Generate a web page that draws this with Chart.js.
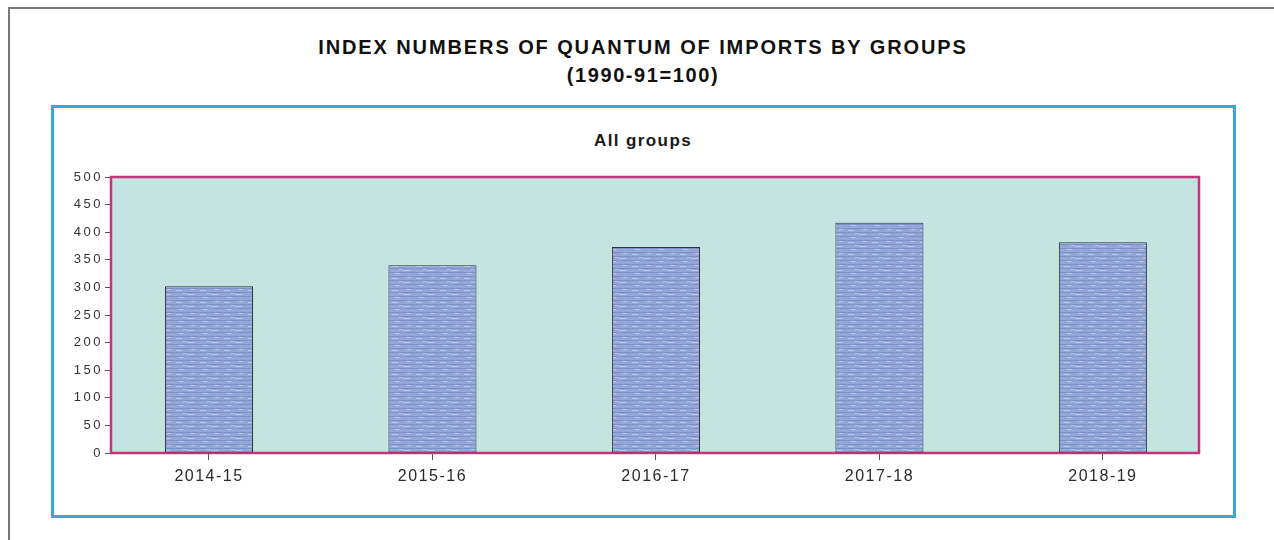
<!DOCTYPE html>
<html>
<head>
<meta charset="utf-8">
<title>Index numbers of quantum of imports by groups</title>
<script src="https://cdn.jsdelivr.net/npm/chart.js@4.4.1/dist/chart.umd.min.js"></script>
<style>
    html, body { margin: 0; padding: 0; background: #fff; }
    body { width: 1274px; height: 540px; position: relative; overflow: hidden; font-family: 'Liberation Sans', Arial, sans-serif; }
    .page-top { position: absolute; left: 9px; top: 7px; right: 0; height: 2px; background: #7a7a7a; }
    .page-left { position: absolute; left: 8px; top: 7px; bottom: 0; width: 2px; background: #7a7a7a; }
    .title { position: absolute; left: 0; width: 1286px; text-align: center; font-weight: bold; color: #111; line-height: 24px; }
    #t1 { top: 35px; font-size: 20px; letter-spacing: 1.9px; }
    #t2 { top: 63px; font-size: 20px; letter-spacing: 1.6px; }
    #t3 { top: 130px; font-size: 17px; letter-spacing: 1.4px; color: #1a1a1a; line-height: 22px; }
    .box { position: absolute; left: 51px; top: 105px; width: 1185px; height: 413px; box-sizing: border-box; border: 3px solid #3aa6d6; }
    .chart-wrap { position: absolute; left: 54px; top: 108px; width: 1179px; height: 407px; }
</style>
</head>
<body>
<div class="page-top"></div>
<div class="page-left"></div>
<div class="box"></div>
<div class="title" id="t1">INDEX NUMBERS OF QUANTUM OF IMPORTS BY GROUPS</div>
<div class="title" id="t2">(1990-91=100)</div>
<div class="title" id="t3">All groups</div>
<div class="chart-wrap"><canvas id="importsChart"></canvas></div>

<script>
// Data
const years = ['2014-15', '2015-16', '2016-17', '2017-18', '2018-19'];
const allGroups = [302, 340, 373, 417, 382];
const yTicks = [0, 50, 100, 150, 200, 250, 300, 350, 400, 450, 500];

// Colours
const colors = {
    plotBg: '#c4e4e2',
    plotBorder: '#c8337c',
    barEdge: '#333333',
    tick: '#555555',
    text: '#2a2a2a'
};

// Mottled blue fill for the bars, like the scanned texture
function makeBarPattern() {
    const c = document.createElement('canvas');
    c.width = 24;
    c.height = 12;
    const g = c.getContext('2d');
    g.fillStyle = '#96a6d6';
    g.fillRect(0, 0, 24, 12);
    g.fillStyle = '#7d91cb';
    for (let y = 0; y < 12; y += 4) g.fillRect(0, y, 24, 1);
    g.fillStyle = '#bcc8e8';
    g.fillRect(2, 2, 6, 1);
    g.fillRect(13, 6, 7, 1);
    g.fillRect(5, 9, 5, 1);
    g.fillRect(17, 1, 4, 1);
    g.fillRect(9, 5, 3, 1);
    return g.createPattern(c, 'repeat');
}

// Plot background and pink frame, drawn under the bars
const plotFrame = {
    id: 'plotFrame',
    beforeDatasetsDraw(chart) {
        const { ctx, chartArea: a } = chart;
        ctx.save();
        ctx.fillStyle = colors.plotBg;
        ctx.fillRect(a.left, a.top, a.right - a.left, a.bottom - a.top);
        ctx.strokeStyle = colors.plotBorder;
        ctx.lineWidth = 2.5;
        ctx.strokeRect(a.left, a.top, a.right - a.left, a.bottom - a.top);
        ctx.restore();
    }
};

// the scan is stretched sideways: add letter spacing to axis labels
function spaceLabels(scale, spacing) {
    if (scale._spaced) return;
    const orig = scale.drawLabels.bind(scale);
    scale.drawLabels = function (area) {
        this.ctx.save();
        this.ctx.letterSpacing = spacing;
        orig(area);
        this.ctx.restore();
    };
    scale._spaced = true;
}

const ctx = document.getElementById('importsChart');
new Chart(ctx, {
    type: 'bar',
    data: {
        datasets: [{
            label: 'All groups',
            data: allGroups.map((v, i) => ({ x: i, y: v })),
            backgroundColor: makeBarPattern(),
            borderColor: colors.barEdge,
            borderWidth: 1,
            borderSkipped: false,
            categoryPercentage: 1,
            barPercentage: 0.394
        }]
    },
    options: {
        responsive: true,
        maintainAspectRatio: false,
        animation: false,
        layout: { padding: { top: 69, right: 34, left: 0, bottom: 0 } },
        plugins: {
            legend: { display: false },
            tooltip: { enabled: false }
        },
        scales: {
            x: {
                type: 'linear',
                min: -0.4385,
                max: 4.43,
                offset: false,
                afterBuildTicks(scale) {
                    scale.ticks = years.map((y, i) => ({ value: i }));
                },
                grid: { offset: false, drawOnChartArea: false, drawTicks: true, tickLength: 7, color: colors.tick },
                border: { display: false },
                ticks: {
                    padding: 7,
                    maxRotation: 0,
                    autoSkip: false,
                    color: colors.text,
                    font: { family: "'Liberation Sans', Arial", size: 16 },
                    callback: v => years[v]
                },
                afterFit(scale) {
                    scale.height = 62;
                    spaceLabels(scale, '1.5px');
                }
            },
            y: {
                min: 0,
                max: 500,
                afterBuildTicks(scale) {
                    scale.ticks = yTicks.map(v => ({ value: v }));
                },
                grid: { drawOnChartArea: false, drawTicks: true, tickLength: 6, color: colors.tick },
                border: { display: false },
                ticks: { padding: 2, color: '#333', font: { family: "'Liberation Sans', Arial", size: 13 } },
                afterFit(scale) {
                    scale.width = 57;
                    spaceLabels(scale, '2.5px');
                }
            }
        }
    },
    plugins: [plotFrame]
});
</script>
</body>
</html>
